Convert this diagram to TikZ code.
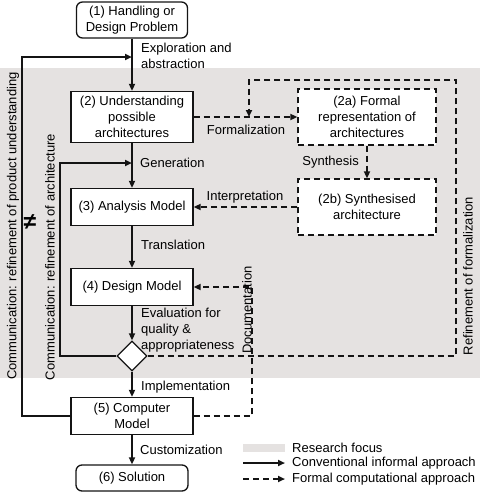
\documentclass[tikz,border=0pt]{standalone}
\usepackage{fontspec}
\setmainfont{Liberation Sans}
\usepackage{xcolor}
\definecolor{focusGray}{RGB}{229,226,225}
\definecolor{lineBlack}{RGB}{20,20,20}
\usetikzlibrary{arrows.meta,positioning,shapes.geometric}

\begin{document}
\begin{tikzpicture}[x=1pt, y=-1pt, font=\fontsize{13}{16}\selectfont,
    stage/.style={draw=lineBlack, line width=1.3pt, fill=white, align=center, inner sep=2pt},
    formalstage/.style={stage, dash pattern=on 6pt off 4pt},
    flow/.style={draw=lineBlack, line width=1.8pt, -{Triangle[length=7pt,width=6pt]}},
    dflow/.style={flow, dash pattern=on 6pt off 4pt},
    tag/.style={anchor=west, align=left, inner sep=0pt},
    sidetag/.style={rotate=90, inner sep=0pt}]
  \useasboundingbox (0,0) rectangle (480,496);
  \fill[focusGray] (0,68) rectangle (480,378);

  \node[stage, rounded corners=6pt, minimum width=111pt, minimum height=36pt] (st1) at (132,20) {(1) Handling or\\Design Problem};
  \node[stage, minimum width=122pt, minimum height=51pt] (st2) at (132,117) {(2) Understanding\\possible\\architectures};
  \node[stage, minimum width=122pt, minimum height=37pt] (st3) at (132,207) {(3) Analysis Model};
  \node[stage, minimum width=122pt, minimum height=37pt] (st4) at (132,287) {(4) Design Model};
  \node[stage, diamond, minimum width=30pt, minimum height=30pt, inner sep=0pt] (check) at (132,356) {};
  \node[stage, minimum width=122pt, minimum height=37pt] (st5) at (132,416) {(5) Computer\\Model};
  \node[stage, rounded corners=6pt, minimum width=112pt, minimum height=26pt] (st6) at (132,478) {(6) Solution};
  \node[formalstage, minimum width=138pt, minimum height=56pt] (st2a) at (367,117) {(2a) Formal\\representation of\\architectures};
  \node[formalstage, minimum width=138pt, minimum height=56pt] (st2b) at (367,207) {(2b) Synthesised\\architecture};

  \coordinate (join1) at (132,57);
  \coordinate (join2) at (132,163);
  \coordinate (join3) at (249,117);

  \draw[flow] (st1) -- (st2);
  \draw[flow] (st2) -- (st3);
  \draw[flow] (st3) -- (st4);
  \draw[flow] (st4) -- (check);
  \draw[flow] (check) -- (st5);
  \draw[flow] (st5) -- (st6);
  \draw[flow] (st5.west) -| (22,57) -- (join1);
  \draw[flow] (check.west) -| (60,163) -- (join2);

  \draw[dflow] (st2) -- (st2a);
  \draw[dflow] (st2a) -- (st2b);
  \draw[dflow] (st2b) -- (st3);
  \draw[dflow] (check.east) -- (456,356) |- (249,80) -- (join3);
  \draw[dflow] (st5.east) -| (252,287) -- (st4.east);

  \node[tag] (lblExplore) at (141,56) {Exploration and\\abstraction};
  \node[tag] (lblGen) at (140,163) {Generation};
  \node[tag] (lblTrans) at (141,245) {Translation};
  \node[tag] (lblEval) at (141,330) {Evaluation for\\quality \&\\appropriateness};
  \node[tag] (lblImpl) at (141,387) {Implementation};
  \node[tag] (lblCust) at (140,450) {Customization};
  \node[inner sep=0pt] (lblForm) at (246,130) {Formalization};
  \node[inner sep=0pt, anchor=east] (lblSyn) at (359,162) {Synthesis};
  \node[inner sep=0pt] (lblInterp) at (245,197) {Interpretation};
  \node[sidetag] (lblDoc) at (247,310) {Documentation};
  \node[sidetag] (lblProduct) at (13,226) {Communication: refinement of product understanding};
  \node[sidetag] (lblArch) at (50,257) {Communication: refinement of architecture};
  \node[sidetag] (lblRefine) at (468,276) {Refinement of formalization};
  \node[inner sep=0pt, font=\fontsize{23}{23}\selectfont\bfseries] (neq) at (30,222) {≠};

  \fill[focusGray] (243,444) rectangle (285,452);
  \coordinate (legA1) at (243,463);
  \coordinate (legA2) at (285,463);
  \coordinate (legB1) at (243,479);
  \coordinate (legB2) at (285,479);
  \draw[flow] (legA1) -- (legA2);
  \draw[dflow] (legB1) -- (legB2);
  \node[tag] (legFocus) at (292,448) {Research focus};
  \node[tag] (legInformal) at (292,463) {Conventional informal approach};
  \node[tag] (legFormal) at (292,479) {Formal computational approach};
\end{tikzpicture}
\end{document}
